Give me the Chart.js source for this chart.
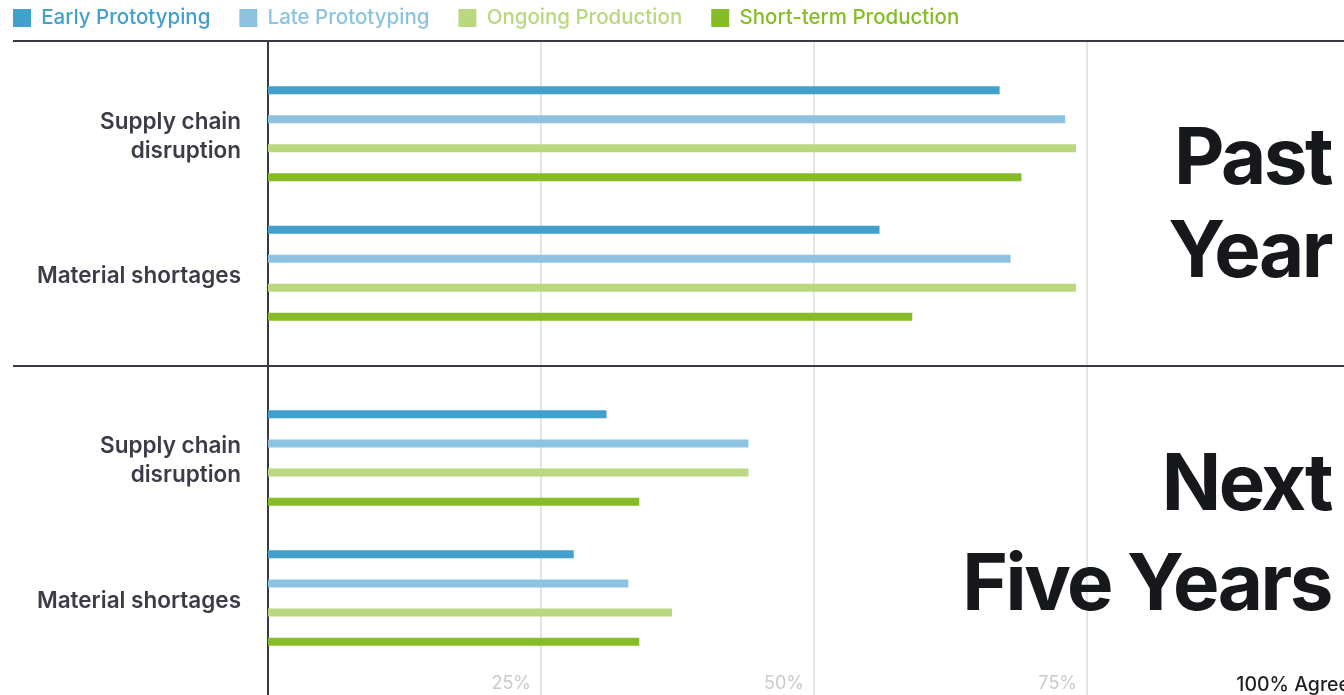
<!DOCTYPE html>
<html>
<head>
<meta charset="utf-8">
<script src="https://cdn.jsdelivr.net/npm/chart.js@4.4.1/dist/chart.umd.min.js"></script>
<style>
    html, body { margin: 0; padding: 0; background: #fff; overflow: hidden; }
    #wrap { position: relative; width: 1344px; height: 695px; overflow: hidden; }
    #top-chart { position: absolute; left: 0; top: 0; }
    #bottom-chart { position: absolute; left: 0; top: 368px; }
    .big {
        position: absolute; right: 13px; text-align: right; white-space: nowrap;
        font-family: Inter, sans-serif; font-weight: 700; font-size: 78px;
        letter-spacing: -2.5px; color: #17181c;
    }
</style>
</head>
<body>
<div id="wrap">
    <canvas id="top-chart" width="1380" height="368"></canvas>
    <canvas id="bottom-chart" width="1380" height="327"></canvas>
    <div class="big" style="top:109px;line-height:93px;">Past<br>Year</div>
    <div class="big" style="top:432px;line-height:100px;">Next<br>Five Years</div>
</div>
<script>
// categories and series
const categories = [['Supply chain', 'disruption'], 'Material shortages'];
const seriesNames = ['Early Prototyping', 'Late Prototyping', 'Ongoing Production', 'Short-term Production'];
const seriesColors = ['#42a0cc', '#8dc3e0', '#b9d87f', '#86bc27'];

// past year (% agree)
const pastEarly = [67, 56];
const pastLate = [73, 68];
const pastOngoing = [74, 74];
const pastShort = [69, 59];

// next five years (% agree)
const nextEarly = [31, 28];
const nextLate = [44, 33];
const nextOngoing = [44, 37];
const nextShort = [34, 34];

// x axis ticks
const xTickValues = [25, 50, 75, 100];
const xTickLabels = ['25%', '50%', '75%', '100% Agree'];

const FONT = 'Inter, sans-serif';
const AXIS_DARK = '#383944';

function makeDatasets(series) {
    return series.map((values, i) => ({
        label: seriesNames[i],
        data: values,
        backgroundColor: seriesColors[i],
        borderWidth: 0,
        categoryPercentage: 0.8315,
        barPercentage: 0.276
    }));
}

// grid lines, axis line and separators that run past the chart area
const panelFrame = {
    id: 'panelFrame',
    beforeDatasetsDraw(chart, args, opts) {
        const { ctx, chartArea, scales } = chart;
        const top = opts.top;
        const bottom = chart.height;
        ctx.save();
        ctx.lineWidth = 2;
        ctx.strokeStyle = '#e4e4e4';
        xTickValues.forEach(v => {
            const x = Math.round(scales.x.getPixelForValue(v));
            ctx.beginPath();
            ctx.moveTo(x, top);
            ctx.lineTo(x, bottom);
            ctx.stroke();
        });
        ctx.strokeStyle = AXIS_DARK;
        ctx.beginPath();
        ctx.moveTo(chartArea.left, top);
        ctx.lineTo(chartArea.left, bottom);
        ctx.stroke();
        (opts.rules || []).forEach(y => {
            ctx.beginPath();
            ctx.moveTo(13, y);
            ctx.lineTo(chart.width, y);
            ctx.stroke();
        });
        ctx.restore();
    }
};

const yAxis = (width) => ({
    type: 'category',
    grid: { display: false, drawTicks: false },
    border: { display: false },
    ticks: {
        color: '#3b3c48',
        padding: 27,
        labelOffset: 3,
        font: { family: FONT, size: 22.5, weight: 600, lineHeight: 1.29 }
    },
    afterFit: (scale) => {
        scale.width = width;
        // labels sit mid-band, no need to reserve room above/below
        scale.paddingTop = 0;
        scale.paddingBottom = 0;
    }
});

new Chart(document.getElementById('top-chart'), {
    type: 'bar',
    data: {
        labels: categories,
        datasets: makeDatasets([pastEarly, pastLate, pastOngoing, pastShort])
    },
    plugins: [panelFrame],
    options: {
        indexAxis: 'y',
        responsive: false,
        animation: false,
        layout: { padding: { top: -21.25, left: -16, right: 20, bottom: 25 } },
        scales: {
            x: {
                position: 'top',
                min: 0,
                max: 100,
                grid: { display: false, drawTicks: false },
                border: { display: false },
                ticks: { display: false },
                afterFit: (scale) => { scale.height = 25.75; }
            },
            y: yAxis(284)
        },
        plugins: {
            tooltip: { enabled: false },
            panelFrame: { top: 41, rules: [41, 366] },
            legend: {
                position: 'top',
                align: 'start',
                labels: {
                    boxWidth: 18,
                    boxHeight: 18,
                    padding: 29,
                    font: { family: FONT, size: 20.5, weight: 500 },
                    generateLabels: (chart) => {
                        const items = Chart.defaults.plugins.legend.labels.generateLabels(chart);
                        items.forEach((item, i) => { item.fontColor = seriesColors[i]; });
                        return items;
                    }
                }
            }
        }
    }
});

new Chart(document.getElementById('bottom-chart'), {
    type: 'bar',
    data: {
        labels: categories,
        datasets: makeDatasets([nextEarly, nextLate, nextOngoing, nextShort])
    },
    plugins: [panelFrame],
    options: {
        indexAxis: 'y',
        responsive: false,
        animation: false,
        layout: { padding: { top: 20, left: 0, right: 20, bottom: 0 } },
        scales: {
            x: {
                position: 'bottom',
                min: 0,
                max: 100,
                grid: { display: false, drawTicks: false },
                border: { display: false },
                afterBuildTicks: (scale) => { scale.ticks = xTickValues.map(v => ({ value: v })); },
                afterFit: (scale) => { scale.height = 27; },
                ticks: {
                    align: 'end',
                    labelOffset: -10,
                    padding: 5,
                    autoSkip: false,
                    maxRotation: 0,
                    font: (ctx) => ctx.tick && ctx.tick.value === 100
                        ? { family: FONT, size: 19.5, weight: 500 }
                        : { family: FONT, size: 18, weight: 400 },
                    color: (ctx) => ctx.tick && ctx.tick.value === 100 ? '#1f2026' : '#cacaca',
                    callback: (value) => xTickLabels[xTickValues.indexOf(value)]
                }
            },
            y: yAxis(268)
        },
        plugins: {
            tooltip: { enabled: false },
            legend: { display: false },
            panelFrame: { top: 0 }
        }
    }
});
</script>
</body>
</html>
